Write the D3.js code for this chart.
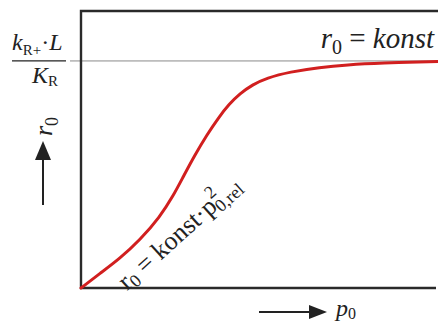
<!DOCTYPE html>
<html>
<head>
<meta charset="utf-8">
<script src="https://cdn.jsdelivr.net/npm/d3@7"></script>
<style>
  html, body { margin: 0; padding: 0; background: #fff; }
  svg { display: block; }
  text { font-family: "Liberation Serif", "DejaVu Serif", serif; fill: #222; }
</style>
</head>
<body>
<script>
// Reaction rate r0 against partial pressure p0 (relative units; r0 = 1 is kR+·L/KR)
const pressure = [0, 5.3, 10.9, 16.5, 22.1, 25.8, 28.6, 31.9, 35.3, 38.5, 41.5, 44.5, 48.0, 52.0, 58.5, 66.9, 74.5, 83.8, 100];
const rate     = [0, 0.064, 0.130, 0.211, 0.313, 0.405, 0.489, 0.586, 0.675, 0.750, 0.810, 0.856, 0.895, 0.925, 0.952, 0.972, 0.983, 0.991, 0.998];
const plateau  = 1.0;

const W = 438, H = 323;
const plotLeft = 81, plotRight = 438, plotTop = 11, plotBottom = 288;

const svg = d3.select("body").append("svg").attr("width", W).attr("height", H);

const x = d3.scaleLinear().domain([0, 100]).range([plotLeft, plotRight]);
const y = d3.scaleLinear().domain([0, 1.22]).range([plotBottom, plotTop]);

// plateau reference line
svg.append("line")
  .attr("x1", 70).attr("x2", W)
  .attr("y1", y(plateau)).attr("y2", y(plateau))
  .attr("stroke", "#8a8a8a").attr("stroke-width", 1);

// frame: left, top and bottom edges
svg.append("path")
  .attr("d", `M${W},${plotTop}H${plotLeft}V${plotBottom}H${W - 2}`)
  .attr("fill", "none").attr("stroke", "#2a2a2a").attr("stroke-width", 2.4);

// rate curve
const line = d3.line().x((d, i) => x(pressure[i])).y(d => y(d)).curve(d3.curveBasis);
svg.append("path")
  .datum(rate)
  .attr("d", line)
  .attr("fill", "none")
  .attr("stroke", "#d11f1f")
  .attr("stroke-width", 3)
  .attr("stroke-linecap", "round");

// fraction kR+·L / KR
const frac = svg.append("g");
const num = frac.append("text").attr("x", 12).attr("y", 50).style("font-size", "24px");
num.append("tspan").text("k").style("font-style", "italic");
num.append("tspan").text("R+").attr("dy", 5).style("font-size", "15px");
num.append("tspan").text("·").attr("dy", -5);
num.append("tspan").text("L").style("font-style", "italic");
frac.append("line").attr("x1", 12).attr("x2", 66).attr("y1", y(plateau)).attr("y2", y(plateau))
  .attr("stroke", "#222").attr("stroke-width", 1.2);
const den = frac.append("text").attr("x", 32).attr("y", 83).style("font-size", "24px");
den.append("tspan").text("K").style("font-style", "italic");
den.append("tspan").text("R").attr("dy", 3).style("font-size", "15px");

// r0 = konst (plateau label)
const tl = svg.append("text").attr("x", 434).attr("y", 48).attr("text-anchor", "end").style("font-size", "29px");
tl.append("tspan").text("r").style("font-style", "italic");
tl.append("tspan").text("0").attr("dy", 6).style("font-size", "20px");
tl.append("tspan").text(" = ").attr("dy", -6);
tl.append("tspan").text("konst").style("font-style", "italic");

// label along the rising branch
const cl = svg.append("text")
  .attr("transform", "translate(127,291) rotate(-42)")
  .style("font-size", "26px");
cl.append("tspan").text("r");
cl.append("tspan").text("0").attr("dy", 4).style("font-size", "18px");
cl.append("tspan").text(" = konst·p").attr("dy", -4);
cl.append("tspan").text("2").attr("dy", -12).style("font-size", "18px");
cl.append("tspan").text("0,rel").attr("dx", -10).attr("dy", 17).style("font-size", "18px");

// y axis label with upward arrow
const ya = svg.append("g");
ya.append("line").attr("x1", 43).attr("x2", 43).attr("y1", 205).attr("y2", 155)
  .attr("stroke", "#222").attr("stroke-width", 2);
ya.append("path").attr("d", "M43,141L51,160L35,160Z").attr("fill", "#222");
const yl = ya.append("text").attr("transform", "translate(52,136) rotate(-90)").style("font-size", "26px");
yl.append("tspan").text("r").style("font-style", "italic");
yl.append("tspan").text("0").attr("dy", 6).style("font-size", "18px");

// x axis label with rightward arrow
const xa = svg.append("g");
xa.append("line").attr("x1", 259).attr("x2", 312).attr("y1", 312).attr("y2", 312)
  .attr("stroke", "#222").attr("stroke-width", 2);
xa.append("path").attr("d", "M327,312L309,305L309,319Z").attr("fill", "#222");
const xl = xa.append("text").attr("x", 336).attr("y", 316).style("font-size", "24px");
xl.append("tspan").text("p").style("font-style", "italic");
xl.append("tspan").text("0").attr("dy", 3).style("font-size", "16px");
</script>
</body>
</html>
